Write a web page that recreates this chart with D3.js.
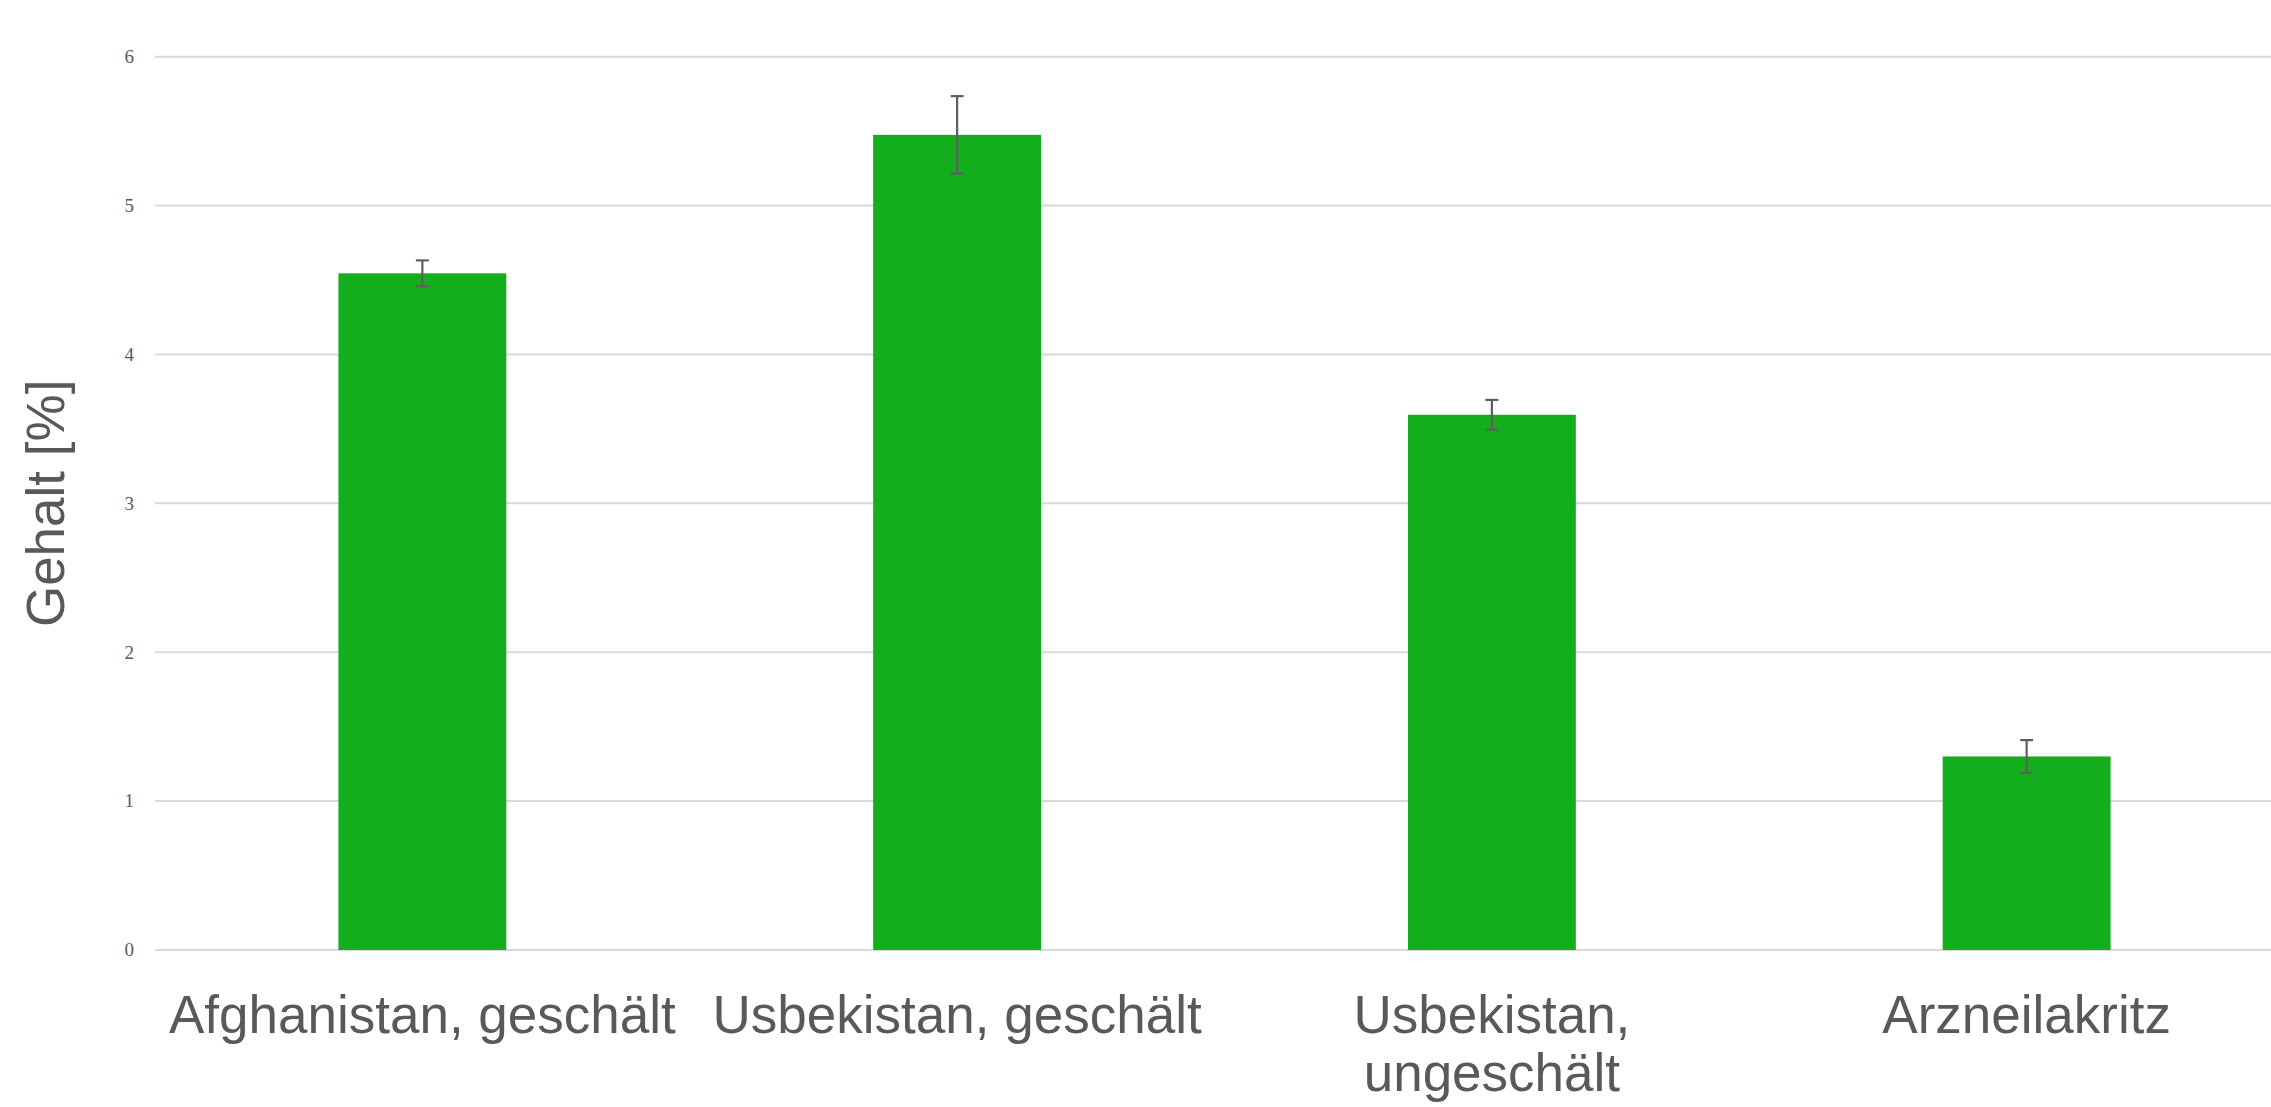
<!DOCTYPE html>
<html>
<head>
<meta charset="utf-8">
<script src="https://cdn.jsdelivr.net/npm/d3@7"></script>
<style>
  html, body { margin: 0; padding: 0; background: #fff; overflow: hidden; }
</style>
</head>
<body>
<script>
// data
const categories = ["Afghanistan, geschält", "Usbekistan, geschält", "Usbekistan, ungeschält", "Arzneilakritz"];
const values = [4.545, 5.475, 3.595, 1.30];
const errors = [0.087, 0.26, 0.10, 0.11];
const yTicks = [0, 1, 2, 3, 4, 5, 6];
const yLabel = "Gehalt [%]";

const createChart = () => {
    const width = 2271;
    const height = 1107;
    const margin = { left: 155, right: -23, top: 56.7, bottom: 157 };

    const svg = d3.select("body")
      .append("svg")
      .attr("width", width)
      .attr("height", height);

    const x = d3.scaleBand()
        .domain(categories)
        .range([margin.left, width - margin.right])
        .paddingInner(0.686)
        .paddingOuter(0.343);

    const y = d3.scaleLinear()
        .domain([0, 6])
        .range([height - margin.bottom, margin.top]);

    // gridlines
    svg.append("g")
      .selectAll("line")
      .data(yTicks)
      .join("line")
        .attr("x1", margin.left)
        .attr("x2", width)
        .attr("y1", d => y(d))
        .attr("y2", d => y(d))
        .attr("stroke", "#d9d9d9")
        .attr("stroke-width", 2);

    // y tick labels
    svg.append("g")
        .style("font", "19px 'Liberation Serif', serif")
        .attr("fill", "#595959")
        .attr("text-anchor", "end")
      .selectAll("text")
      .data(yTicks)
      .join("text")
        .attr("x", 134)
        .attr("y", d => y(d))
        .attr("dy", "0.33em")
        .text(d => d);

    // bars
    svg.append("g")
      .selectAll("rect")
      .data(categories)
      .join("rect")
        .attr("x", d => x(d))
        .attr("width", x.bandwidth())
        .attr("y", (d, i) => y(values[i]))
        .attr("height", (d, i) => y(0) - y(values[i]))
        .attr("fill", "#13ae1c");

    // error bars
    const err = svg.append("g")
        .attr("stroke", "#5f5f5f")
        .attr("stroke-width", 2.2)
      .selectAll("g")
      .data(categories)
      .join("g")
        .attr("transform", d => `translate(${x(d) + x.bandwidth() / 2},0)`);
    err.append("line")
        .attr("y1", (d, i) => y(values[i] + errors[i]))
        .attr("y2", (d, i) => y(values[i] - errors[i]));
    err.append("line")
        .attr("x1", -6.5).attr("x2", 6.5)
        .attr("y1", (d, i) => y(values[i] + errors[i]))
        .attr("y2", (d, i) => y(values[i] + errors[i]));
    err.append("line")
        .attr("x1", -6.5).attr("x2", 6.5)
        .attr("y1", (d, i) => y(values[i] - errors[i]))
        .attr("y2", (d, i) => y(values[i] - errors[i]));

    // category labels, wrapped when wider than the band step
    const catLabel = svg.append("g")
        .style("font", "53px 'Liberation Sans', Arial, sans-serif")
        .attr("fill", "#595959")
        .attr("text-anchor", "middle")
      .selectAll("text")
      .data(categories)
      .join("text")
        .attr("x", d => x(d) + x.bandwidth() / 2)
        .attr("y", 1033)
        .text(d => d);

    catLabel.each(function(d) {
      const t = d3.select(this);
      if (this.getComputedTextLength() <= x.step() * 0.97) return;
      const words = d.split(" ");
      t.text(null);
      const cx = +t.attr("x");
      let line = [];
      let tspan = t.append("tspan").attr("x", cx).attr("dy", 0);
      let n = 0;
      words.forEach(w => {
        line.push(w);
        tspan.text(line.join(" "));
        if (tspan.node().getComputedTextLength() > x.step() * 0.97 && line.length > 1) {
          line.pop();
          tspan.text(line.join(" "));
          line = [w];
          n++;
          tspan = t.append("tspan").attr("x", cx).attr("dy", 58).text(w);
        }
      });
    });

    // y axis title
    svg.append("text")
        .attr("transform", `translate(64,${(y(0) + y(6)) / 2}) rotate(-90)`)
        .attr("text-anchor", "middle")
        .style("font", "53px 'Liberation Sans', Arial, sans-serif")
        .attr("fill", "#595959")
        .text(yLabel);
};

createChart();
</script>
</body>
</html>
